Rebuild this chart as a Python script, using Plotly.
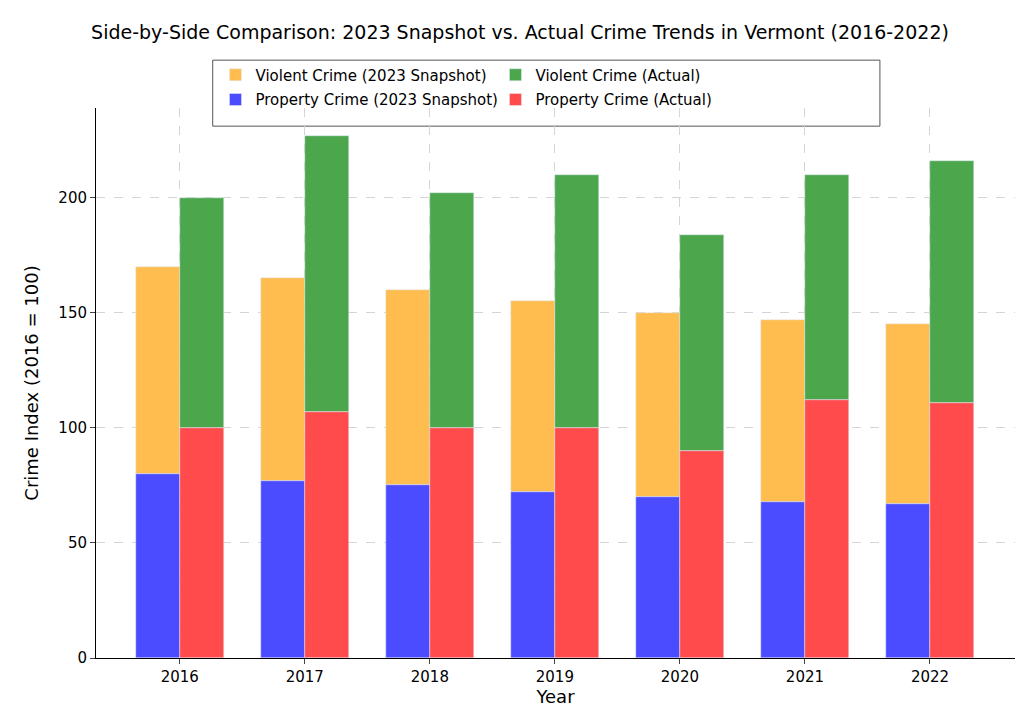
import plotly.graph_objects as go

years = [2016, 2017, 2018, 2019, 2020, 2021, 2022]
snap_property = [80, 77, 75, 72, 70, 68, 67]
snap_violent = [90, 88, 85, 83, 80, 79, 78]
act_property = [100, 107, 100, 100, 90, 112, 111]
act_violent = [100, 120, 102, 110, 94, 98, 105]

w = 0.35
fig = go.Figure()
fig.add_trace(go.Bar(x=years, y=snap_violent, base=snap_property, name="Violent Crime (2023 Snapshot)",
                     marker_color="#FFBD4F", width=w, offset=-w, legend="legend"))
fig.add_trace(go.Bar(x=years, y=act_violent, base=act_property, name="Violent Crime (Actual)",
                     marker_color="#4CA64C", width=w, offset=0, legend="legend"))
fig.add_trace(go.Bar(x=years, y=snap_property, name="Property Crime (2023 Snapshot)",
                     marker_color="#4B4BFF", width=w, offset=-w, legend="legend2"))
fig.add_trace(go.Bar(x=years, y=act_property, name="Property Crime (Actual)",
                     marker_color="#FF4B4B", width=w, offset=0, legend="legend2"))

leg = dict(orientation="h", xanchor="left", yanchor="top", entrywidth=235,
           bgcolor="rgba(0,0,0,0)", font=dict(size=15), traceorder="normal")
fig.update_layout(
    width=1024, height=713, barmode="overlay", plot_bgcolor="white", paper_bgcolor="white",
    font=dict(family="DejaVu Sans", size=15, color="black"),
    title=dict(text="Side-by-Side Comparison: 2023 Snapshot vs. Actual Crime Trends in Vermont (2016-2022)",
               x=0.5, xanchor="center", y=0.975, font=dict(size=19)),
    margin=dict(l=88, r=17, t=100, b=63),
    legend=dict(leg, x=0.13, y=1.09),
    legend2=dict(leg, x=0.13, y=1.045),
    bargap=0,
    shapes=[dict(type="rect", xref="paper", yref="paper", x0=0.127, x1=0.853, y0=0.967, y1=1.087,
                 line=dict(color="#555", width=1), fillcolor="white", layer="below")],
)
fig.update_xaxes(range=[2015.33, 2022.68], tickvals=years, title_text="Year", showline=True,
                 linecolor="black", ticks="outside", showgrid=True, gridcolor="#d5d5d5", griddash="dash",
                 title_standoff=5)
fig.update_yaxes(range=[0, 239], tickvals=[0, 50, 100, 150, 200], title_text="Crime Index (2016 = 100)",
                 showline=True, linecolor="black", ticks="outside", showgrid=True, gridcolor="#d5d5d5",
                 griddash="dash", zeroline=False)
fig.write_html("out.html")
